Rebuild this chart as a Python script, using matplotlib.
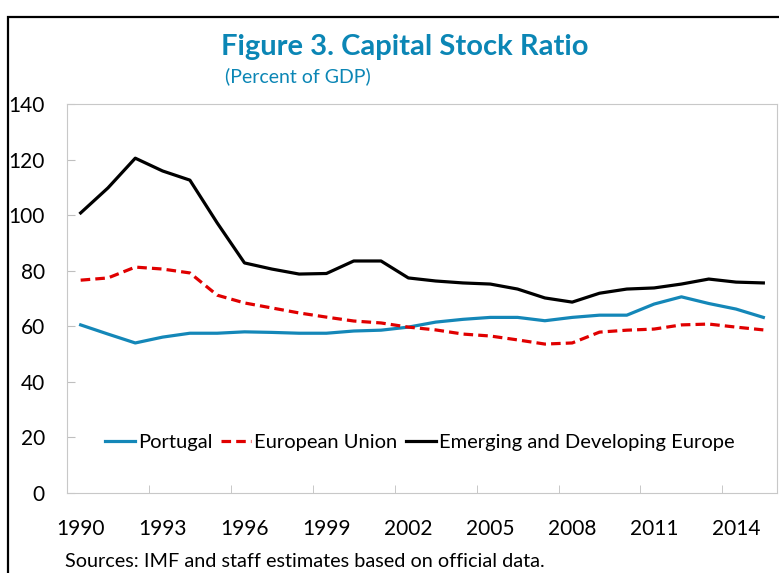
import numpy as np
import matplotlib.pyplot as plt
from matplotlib.patches import Rectangle

years = list(range(1990, 2016))
portugal = [60.5, 57.2, 54.0, 56.1, 57.5, 57.5, 58.0, 57.8, 57.5, 57.5, 58.3, 58.6, 59.7,
            61.5, 62.5, 63.2, 63.2, 62.0, 63.2, 64.0, 64.0, 68.0, 70.6, 68.2, 66.2, 63.2]
eu = [76.6, 77.4, 81.3, 80.6, 79.2, 71.2, 68.4, 66.6, 64.8, 63.3, 61.9, 61.2, 59.7,
      58.7, 57.2, 56.5, 55.1, 53.6, 54.0, 57.9, 58.6, 59.0, 60.5, 60.8, 59.7, 58.7]
emerging = [100.8, 109.8, 120.5, 115.9, 112.6, 97.2, 82.8, 80.6, 78.8, 79.0, 83.5, 83.5, 77.4,
            76.3, 75.6, 75.2, 73.4, 70.2, 68.7, 71.9, 73.4, 73.8, 75.2, 77.0, 75.9, 75.6]
yticks = [0, 20, 40, 60, 80, 100, 120, 140]

plt.rcParams['font.family'] = ['Lato', 'DejaVu Sans']

fig = plt.figure(figsize=(7.79, 5.73), dpi=100)
ax = fig.add_axes([67/779, 80/573, 710/779, 389/573])

x = np.arange(len(years))
ax.plot(x, portugal, color='#1487b8', lw=2.3, label='Portugal')
ax.plot(x, eu, color='#e00000', lw=2.3, ls=(0, (3, 1.6)), label='European Union')
ax.plot(x, emerging, color='black', lw=2.3, label='Emerging and Developing Europe')

ax.set_xlim(-0.5, 25.5)
ax.set_ylim(0, 140)
ax.set_xticks(x[::3])
ax.set_xticklabels([str(y) for y in years[::3]])
ax.set_xticks(np.arange(-0.5, 24, 3), minor=True)
ax.tick_params(axis='x', which='major', length=0, pad=19, labelsize=15)
ax.tick_params(axis='x', which='minor', direction='in', length=6, color='#bfbfbf')
ax.set_yticks(yticks)
ax.tick_params(axis='y', direction='in', length=6, color='#bfbfbf', pad=16, labelsize=15)
for s in ax.spines.values():
    s.set_color('#c8c8c8')

ax.legend(loc='center left', bbox_to_anchor=(0.028, 0.13), ncol=3, frameon=False,
          fontsize=14.5, handlelength=1.5, handletextpad=0.12, columnspacing=0.45)

fig.text(405/779, 1 - 55/573, 'Figure 3. Capital Stock Ratio', ha='center', va='baseline',
         fontsize=21, fontweight='bold', color='#0b86b5')
fig.text(225/779, 1 - 82/573, '(Percent of GDP)', ha='left', va='baseline',
         fontsize=14, color='#0b86b5')
fig.text(65/779, 1 - 567/573, 'Sources: IMF and staff estimates based on official data.',
         ha='left', va='baseline', fontsize=14.3)

fig.patches.append(Rectangle((8/779, -0.1), 1.0, 0.1 + 1 - 17/573, transform=fig.transFigure,
                             fill=False, edgecolor='black', lw=1.6))

fig.savefig('out.png', dpi=100)
